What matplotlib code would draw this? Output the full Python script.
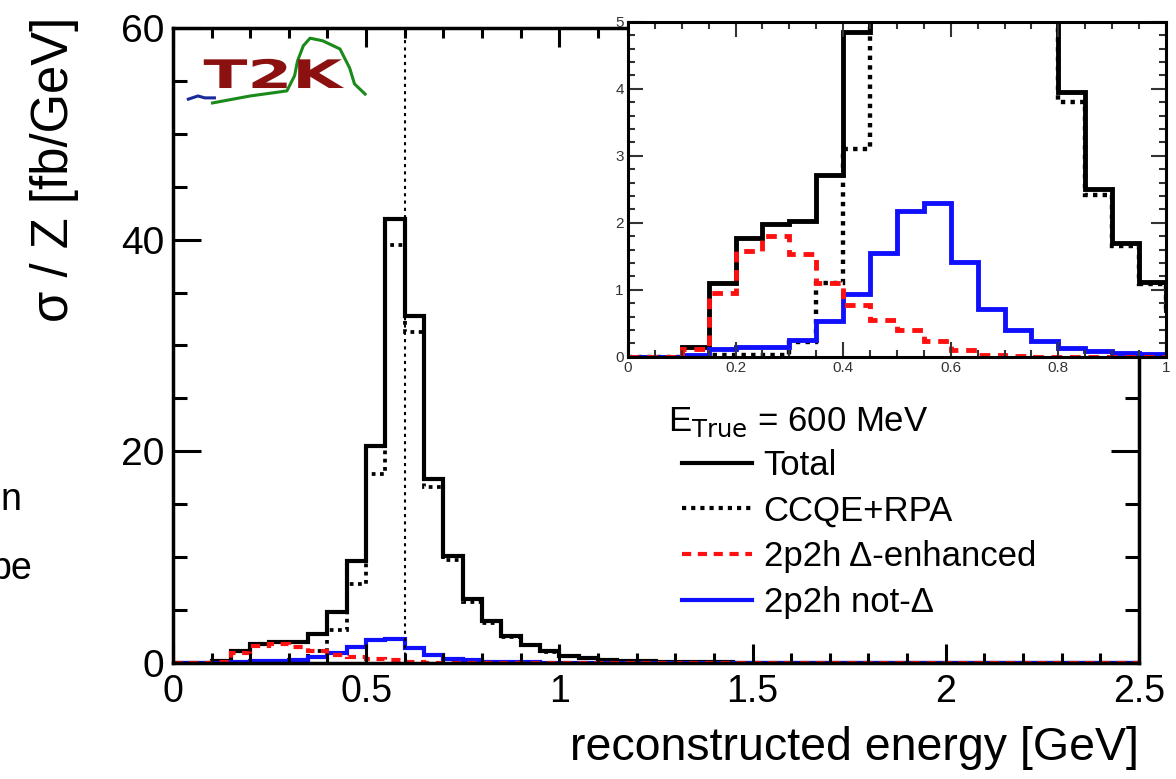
import numpy as np
import matplotlib
matplotlib.use('Agg')
import matplotlib.pyplot as plt
from matplotlib.lines import Line2D
from matplotlib.textpath import TextPath
from matplotlib.patches import PathPatch
from matplotlib.font_manager import FontProperties
import matplotlib.transforms as mtransforms

plt.rcParams['font.family'] = ['Liberation Sans', 'DejaVu Sans']

# бины по 0.05 GeV, от 0 до 2.5
EDGES = np.round(np.arange(0, 2.5001, 0.05), 3)

TOTAL = [0, 0, 0.15, 1.1, 1.78, 1.98, 2.02, 2.72, 4.85, 9.6,
         20.5, 42.0, 32.8, 17.4, 10.1, 6.0, 3.95, 2.5, 1.7, 1.12,
         0.7, 0.45, 0.3, 0.2, 0.14, 0.1, 0.08, 0.06, 0.05, 0.04,
         0.04, 0.03, 0.03, 0.03, 0.02, 0.02, 0.02, 0.02, 0.02, 0.02,
         0.01, 0.01, 0.01, 0.01, 0.01, 0.01, 0.01, 0.01, 0.01, 0.01]
CCQE = [0, 0, 0, 0.02, 0.02, 0.03, 0.22, 1.1, 3.1, 7.5,
        17.9, 39.5, 31.3, 16.6, 9.7, 5.75, 3.8, 2.42, 1.65, 1.08,
        0.67, 0.43, 0.28, 0.18, 0.12, 0.08, 0.06, 0.04, 0.03, 0.02,
        0.02, 0.01, 0.01, 0.01, 0.01, 0, 0, 0, 0, 0,
        0, 0, 0, 0, 0, 0, 0, 0, 0, 0]
DELTA = [0, 0, 0.12, 0.95, 1.58, 1.81, 1.53, 1.1, 0.78, 0.55,
         0.4, 0.23, 0.1, 0.03, 0.01, 0, 0, 0, 0, 0,
         0, 0, 0, 0, 0, 0, 0, 0, 0, 0,
         0, 0, 0, 0, 0, 0, 0, 0, 0, 0,
         0, 0, 0, 0, 0, 0, 0, 0, 0, 0]
NOT_DELTA = [0, 0, 0.03, 0.12, 0.15, 0.15, 0.25, 0.53, 0.93, 1.55,
             2.18, 2.3, 1.42, 0.72, 0.4, 0.23, 0.13, 0.08, 0.05, 0.04,
             0.03, 0.03, 0.02, 0.02, 0.02, 0.02, 0.02, 0.01, 0.01, 0.01,
             0.01, 0.01, 0.01, 0.01, 0.01, 0.01, 0.01, 0.01, 0.01, 0.01,
             0.01, 0.01, 0.01, 0.01, 0.01, 0.01, 0.01, 0.01, 0.01, 0.01]
E_TRUE = 0.6

LABELS = ['Total', 'CCQE+RPA', '2p2h Δ-enhanced', '2p2h not-Δ']

# логотип T2K (волна), в долях осей
LOGO_GX = [0.041, 0.08, 0.118, 0.126, 0.129, 0.135, 0.142, 0.155, 0.173, 0.183, 0.188, 0.199]
LOGO_GY = [0.882, 0.893, 0.901, 0.925, 0.948, 0.972, 0.984, 0.98, 0.967, 0.937, 0.912, 0.896]
LOGO_BX = [0.016, 0.026, 0.033, 0.043]
LOGO_BY = [0.888, 0.893, 0.890, 0.890]

fig = plt.figure(figsize=(11.76, 7.79), dpi=100)
ax = fig.add_axes([0.147, 0.149, 0.8215, 0.815])

def draw(a, lw):
    a.stairs(TOTAL, EDGES, color='black', lw=lw)
    a.stairs(CCQE, EDGES, color='black', lw=lw * 0.9, ls=(0, (1, 1.2)))
    a.stairs(NOT_DELTA, EDGES, color='#1010ff', lw=lw)
    a.stairs(DELTA, EDGES, color='#ff1010', lw=lw, ls=(0, (2.2, 1.6)))

draw(ax, 3)
ax.axvline(E_TRUE, color='black', lw=1.5, ls=(0, (1.5, 2)))
ax.set_xlim(0, 2.5)
ax.set_ylim(0, 60)
ax.set_xticks([0, 0.5, 1, 1.5, 2, 2.5])
ax.set_xticklabels(['0', '0.5', '1', '1.5', '2', '2.5'])
ax.set_xticks(np.arange(0, 2.51, 0.1), minor=True)
ax.set_yticks([0, 20, 40, 60])
ax.set_yticks(np.arange(0, 61, 5), minor=True)
ax.tick_params(which='both', direction='in', top=True, right=True, width=2.2,
               colors='black')
ax.tick_params(axis='x', which='major', length=14, pad=8, labelsize=27)
ax.tick_params(axis='x', which='minor', length=7)
ax.tick_params(axis='y', which='major', length=20, pad=6, labelsize=28)
ax.tick_params(axis='y', which='minor', length=10)
for s in ax.spines.values():
    s.set_linewidth(2.5)

ax.set_xlabel('reconstructed energy [GeV]', fontsize=33.5, loc='right')
ax.xaxis.set_label_coords(1.0, -0.1)
ax.set_ylabel('σ / Z [fb/GeV]', fontsize=36.5, loc='top')
ax.yaxis.set_label_coords(-0.097, 1.018)

# логотип
ax.plot(LOGO_GX, LOGO_GY, color='#1a8a1a', lw=2.2, transform=ax.transAxes, zorder=5)
ax.plot(LOGO_BX, LOGO_BY, color='#1a2a9a', lw=2.2, transform=ax.transAxes, zorder=5)
tp = TextPath((0, 0), 'T2K', size=1, prop=FontProperties(family='DejaVu Sans', weight='bold'))
tr = mtransforms.Affine2D().scale(0.0548, 0.0505).translate(0.173, 0.887) + fig.transFigure
fig.patches.append(PathPatch(tp, transform=tr, color='#8b1010', lw=0))

# легенда
handles = [Line2D([], [], color='black', lw=3),
           Line2D([], [], color='black', lw=3, ls=(0, (1, 1.2))),
           Line2D([], [], color='#ff1010', lw=3, ls=(0, (2.2, 1.6))),
           Line2D([], [], color='#1010ff', lw=3)]
fig.text(0.568, 0.458, r'E$_{\mathrm{True}}$ = 600 MeV', fontsize=25, va='center')
fig.legend(handles, LABELS, loc='upper left', bbox_to_anchor=(0.580, 0.424),
           frameon=False, fontsize=25, handlelength=2.0, handletextpad=0.35,
           labelspacing=0.37, borderpad=0, borderaxespad=0)

# обрывки текста слева
fig.text(0.0, 0.345, 'n', fontsize=27, fontweight='light', va='baseline')
fig.text(-0.008, 0.257, 'be', fontsize=27, fontweight='light', va='baseline')

# врезка
ins = fig.add_axes([0.534, 0.542, 0.4575, 0.430])
ins.set_facecolor('white')
draw(ins, 3.5)
ins.set_xlim(0, 1)
ins.set_ylim(0, 5)
ins.set_xticks([0, 0.2, 0.4, 0.6, 0.8, 1])
ins.set_xticklabels(['0', '0.2', '0.4', '0.6', '0.8', '1'])
ins.set_xticks(np.arange(0, 1.001, 0.05), minor=True)
ins.set_yticks([0, 1, 2, 3, 4, 5])
ins.set_yticks(np.arange(0, 5.01, 0.2), minor=True)
ins.tick_params(which='both', direction='in', top=True, right=True, width=1.5,
                labelsize=11, colors='#333333', pad=3)
ins.tick_params(which='major', length=11)
ins.tick_params(which='minor', length=5)
for s in ins.spines.values():
    s.set_linewidth(2.2)

plt.savefig('out.png', dpi=100)
